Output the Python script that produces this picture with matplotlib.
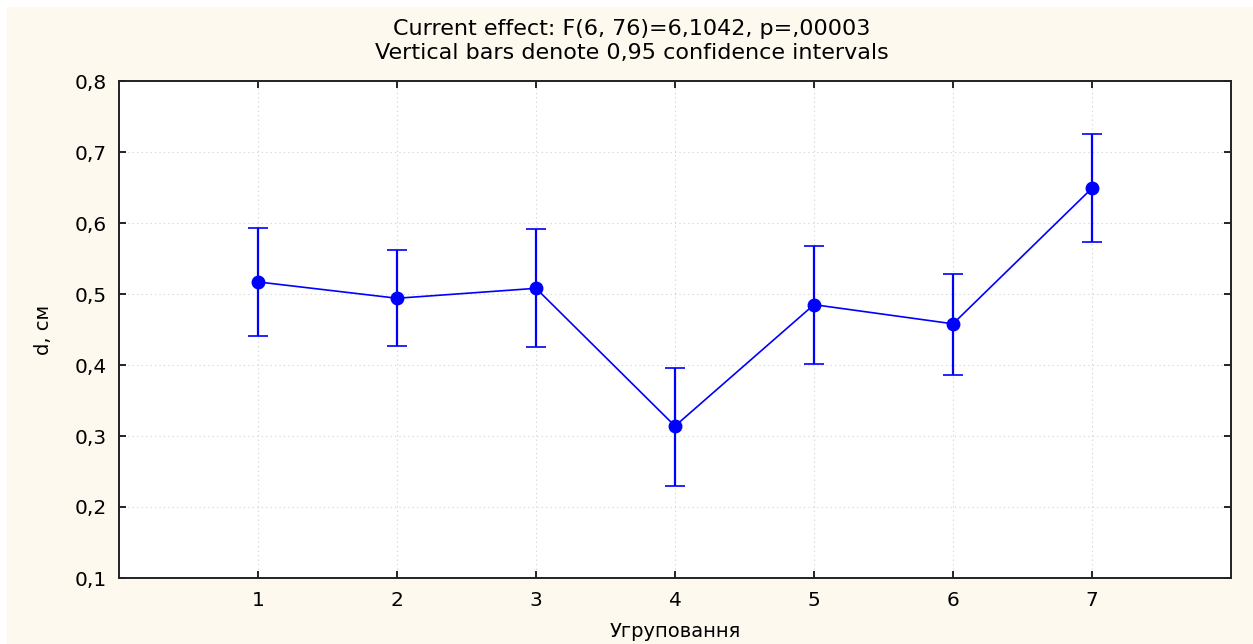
import matplotlib
matplotlib.use("Agg")
import matplotlib.pyplot as plt

plt.rcParams['font.family'] = ['DejaVu Sans']

groups = [1, 2, 3, 4, 5, 6, 7]
means = [0.517, 0.494, 0.508, 0.314, 0.485, 0.458, 0.649]
upper = [0.593, 0.562, 0.592, 0.396, 0.568, 0.528, 0.725]
lower = [0.441, 0.427, 0.425, 0.230, 0.401, 0.386, 0.573]
yticks = [0.1, 0.2, 0.3, 0.4, 0.5, 0.6, 0.7, 0.8]
ytick_labels = ["0,1", "0,2", "0,3", "0,4", "0,5", "0,6", "0,7", "0,8"]
title = "Current effect: F(6, 76)=6,1042, p=,00003\nVertical bars denote 0,95 confidence intervals"
xlabel = "Угруповання"
ylabel = "d, см"

W, H = 1253, 644
fig = plt.figure(figsize=(W / 100, H / 100), dpi=100)
fig.patch.set_facecolor('white')

# cream panel
panel = plt.Rectangle((7 / W, 0), (W - 7) / W, (H - 7) / H, transform=fig.transFigure,
                      facecolor='#fef9ee', edgecolor='none', zorder=-10)
fig.patches.append(panel)

ax = fig.add_axes([119 / W, (H - 578) / H, (1231 - 119) / W, (578 - 81) / H])
ax.set_zorder(5)
ax.set_facecolor('white')

yerr = [[m - l for m, l in zip(means, lower)], [u - m for m, u in zip(means, upper)]]
ax.errorbar(groups, means, yerr=yerr, color='#0000ff', lw=1.2, marker='o', markersize=9,
            capsize=7, capthick=1.2, elinewidth=1.6, zorder=3)

ax.set_xlim(0, 8)
ax.set_ylim(0.1, 0.8)
ax.set_xticks(groups)
ax.set_xticklabels([str(g) for g in groups])
ax.set_yticks(yticks)
ax.set_yticklabels(ytick_labels)
ax.grid(True, color='#d0d0d0', linestyle=(0, (1, 3)), linewidth=0.8)
ax.tick_params(direction='in', length=5, width=1.2, labelsize=14.5, pad=9,
               top=True, right=True, colors='black')
for s in ax.spines.values():
    s.set_linewidth(1.4)
    s.set_color('#222222')

ax.set_xlabel(xlabel, fontsize=14, labelpad=9)
ax.set_ylabel(ylabel, fontsize=14, labelpad=15)
fig.text(632 / W, 1 - 41 / H, title, ha='center', va='center', fontsize=16, linespacing=1.3)

fig.savefig('out.png', dpi=100, facecolor=fig.get_facecolor())
